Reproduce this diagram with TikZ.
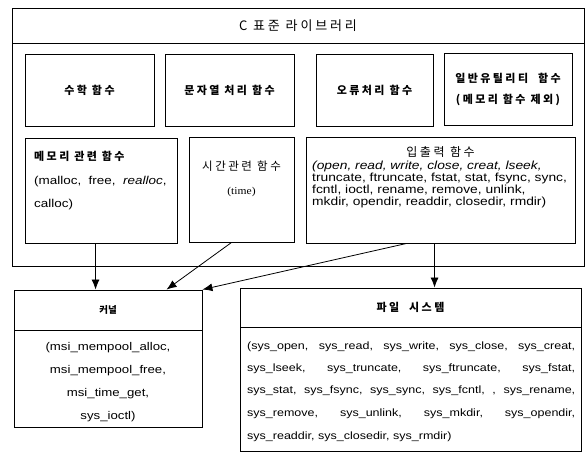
\documentclass[tikz,border=0pt]{standalone}
\usepackage{fontspec}
\setmainfont[FakeStretch=1.18]{Liberation Sans}
\newfontfamily\kr[LetterSpace=22]{Noto Sans CJK KR}
\newfontfamily\krtight{Noto Sans CJK KR}
\newfontfamily\serifr[FakeStretch=1.1]{Liberation Serif}
\usetikzlibrary{arrows.meta,calc}
\begin{document}
\begin{tikzpicture}[x=1pt,y=-1pt,
  box/.style={draw,line width=0.9pt,inner sep=0pt},
  krb/.style={font=\kr\bfseries\fontsize{11}{13}\selectfont},
  krr/.style={font=\kr\fontsize{11.5}{13}\selectfont},
  lat/.style={inner sep=0pt},
  arr/.style={line width=0.8pt,-{Latex[length=10pt,width=8pt]}}]
\useasboundingbox (0,0) rectangle (586,454);
% C library outer box
\node[box,minimum width=572,minimum height=35,font=\kr\fontsize{13}{15}\selectfont] (libtitle) at (298,25.5) {C 표준 라이브러리};
\node[box,minimum width=572,minimum height=223] (libbody) at (298,154.5) {};
% first row
\node[box,krb,minimum width=129,minimum height=72] (math) at (89.5,90) {수학 함수};
\node[box,krb,minimum width=129,minimum height=72] (str) at (229.5,90) {문자열 처리 함수};
\node[box,krb,minimum width=117,minimum height=72] (err) at (374.5,90) {오류처리 함수};
\node[box,krb,minimum width=128,minimum height=72,align=center] (util) at (508,89) {일반유틸리티 \ 함수\\[8pt](메모리 함수 제외)};
% second row
\node[box,minimum width=152,minimum height=105] (mem) at (101,190.5) {};
\node[krb,anchor=west,inner sep=0pt] (memh) at (34,156) {메모리 관련 함수};
\node[lat,anchor=west,font=\fontsize{11.4}{12}\selectfont] (meml1) at (34,182) {(malloc, \ free, \ \textit{realloc},};
\node[lat,anchor=west,font=\fontsize{11.4}{12}\selectfont] (meml2) at (34,205) {calloc)};
\node[box,minimum width=105,minimum height=105] (time) at (241.5,189.5) {};
\node[krr,inner sep=0pt] (timeh) at (241.5,166) {시간관련 함수};
\node[font=\serifr\fontsize{10.5}{12}\selectfont,inner sep=0pt] (timel) at (241.5,192) {(time)};
\node[box,minimum width=269,minimum height=106] (io) at (440.5,190) {};
\node[font=\kr\fontsize{12}{13}\selectfont,inner sep=0pt] (ioh) at (440.5,152) {입출력 함수};
\node[lat,anchor=north west,align=left,font=\fontsize{11.7}{12}\selectfont] (iol) at (312,161)
  {\textit{(open, read, write, close, creat, lseek,}\\
   truncate, ftruncate, fstat, stat, fsync, sync,\\
   fcntl, ioctl, rename, remove, unlink,\\
   mkdir, opendir, readdir, closedir, rmdir)};
% kernel
\node[box,font=\krtight\bfseries\fontsize{9.5}{11}\selectfont,minimum width=188,minimum height=40] (kerntitle) at (108,310) {커널};
\node[box,minimum width=188,minimum height=97] (kernbody) at (108,378.5) {};
\node[lat,font=\fontsize{11.2}{12}\selectfont] (k1) at (108,348) {(msi\_mempool\_alloc,};
\node[lat,font=\fontsize{11.2}{12}\selectfont] (k2) at (108,371) {msi\_mempool\_free,};
\node[lat,font=\fontsize{11.2}{12}\selectfont] (k3) at (108,394) {msi\_time\_get,};
\node[lat,font=\fontsize{11.2}{12}\selectfont] (k4) at (108,417) {sys\_ioctl)};
% file system
\node[box,krb,minimum width=341,minimum height=39] (fstitle) at (410.5,307.5) {파일 \ 시스템};
\node[box,minimum width=341,minimum height=124] (fsbody) at (410.5,389) {};
\begin{scope}[every node/.style={lat,anchor=west,font=\fontsize{10.6}{12}\selectfont}]
\node (f1) at (247,347) {\makebox[328pt][s]{(sys\_open, sys\_read, sys\_write, sys\_close, sys\_creat,}};
\node (f2) at (247,369) {\makebox[328pt][s]{sys\_lseek, sys\_truncate, sys\_ftruncate, sys\_fstat,}};
\node (f3) at (247,391) {\makebox[328pt][s]{sys\_stat, sys\_fsync, sys\_sync, sys\_fcntl, , sys\_rename,}};
\node (f4) at (247,414) {\makebox[328pt][s]{sys\_remove, sys\_unlink, sys\_mkdir, sys\_opendir,}};
\node (f5) at (247,437) {sys\_readdir, sys\_closedir, sys\_rmdir)};
\end{scope}
% arrows
\draw[arr] ($(mem.south west)+(71,0)$) -- ($(kerntitle.north west)+(82,0)$);
\draw[arr] ($(time.south west)+(43,0)$) -- ($(kerntitle.north west)+(153,0)$);
\draw[arr] ($(io.south west)+(101,0)$) -- (kerntitle.north east);
\draw[arr] ($(io.south west)+(129,0)$) -- ($(fstitle.north west)+(195,0)$);
\end{tikzpicture}
\end{document}
